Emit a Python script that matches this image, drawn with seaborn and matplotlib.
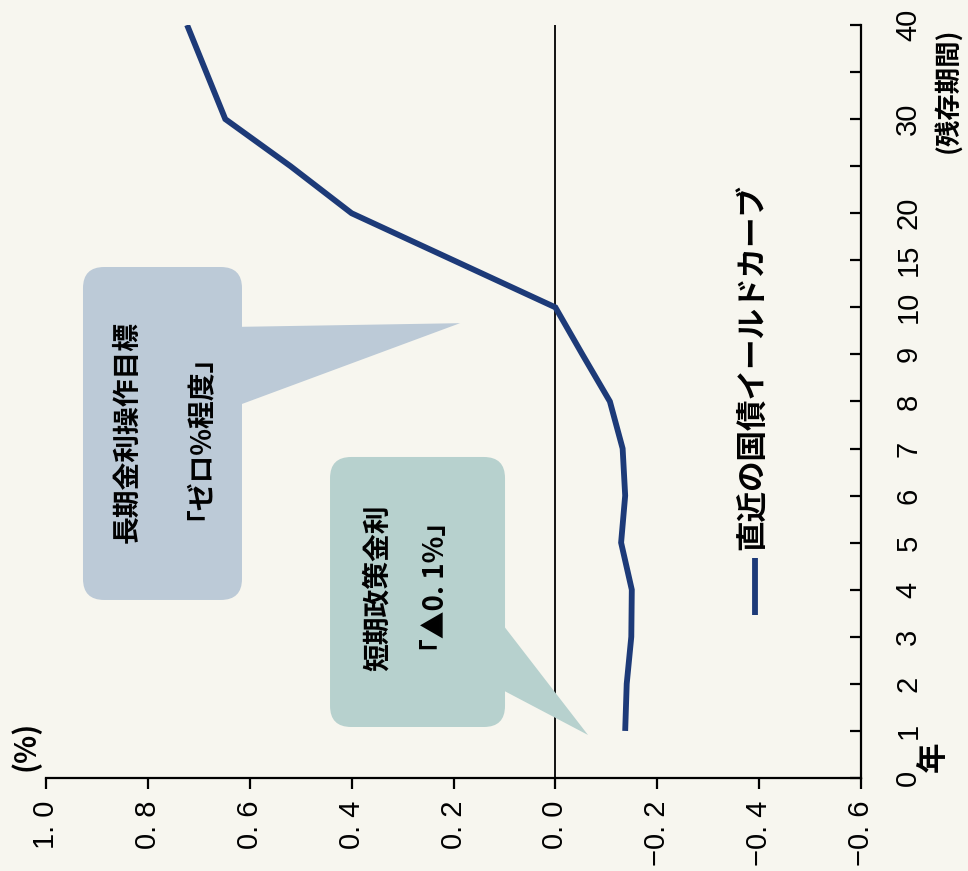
import matplotlib
matplotlib.use("Agg")
import matplotlib.pyplot as plt
import seaborn as sns
import numpy as np
import pandas as pd
from matplotlib.patches import FancyBboxPatch, Polygon
from matplotlib.lines import Line2D

# --- DATA ---
maturities = [1, 2, 3, 4, 5, 6, 7, 8, 9, 10, 15, 20, 25, 30, 40]
yields = [-0.137, -0.140, -0.149, -0.150, -0.129, -0.137, -0.132, -0.107,
          -0.053, 0.000, 0.200, 0.400, 0.520, 0.648, 0.723]
mat_ticks = [0, 1, 2, 3, 4, 5, 6, 7, 8, 9, 10, 15, 20, 25, 30, 35, 40]
mat_labels = ["0", "1", "2", "3", "4", "5", "6", "7", "8", "9", "10",
              "15", "20", "", "30", "", "40"]
yield_ticks = [1.0, 0.8, 0.6, 0.4, 0.2, 0.0, -0.2, -0.4, -0.6]
yield_labels = ["1. 0", "0. 8", "0. 6", "0. 4", "0. 2", "0. 0",
                "\u22120. 2", "\u22120. 4", "\u22120. 6"]
series_name = "直近の国債イールドカーブ"
note_long = ["長期金利操作目標", "「ゼロ%程度」"]
note_short = ["短期政策金利", "「▲0. 1%」"]

# --- STYLE ---
BG = "#f7f6ef"
LINE_C = "#1d3a78"
BOX_LONG = "#bccad7"
BOX_SHORT = "#b7d1ce"
CJK = ["Noto Sans CJK JP", "DejaVu Sans"]
NUM = ["Liberation Sans Narrow", "Liberation Sans", "DejaVu Sans"]

sns.set_theme(style="white")
plt.rcParams["font.family"] = CJK
plt.rcParams["text.color"] = "black"

# maturity axis is not linear: ticks are evenly spaced
pos_of = {m: i for i, m in enumerate(mat_ticks)}
df = pd.DataFrame({"yield": yields, "pos": [pos_of[m] for m in maturities]})

fig = plt.figure(figsize=(9.68, 8.71), dpi=100, facecolor=BG)
ax = fig.add_axes([0.0475, 0.1068, 0.842, 0.8645])
ax.set_facecolor(BG)

# zero line
ax.axvline(0, color="black", lw=1.3, zorder=1)

sns.lineplot(data=df, x="yield", y="pos", orient="y", sort=False,
             color=LINE_C, lw=4.2, ax=ax, zorder=4,
             solid_capstyle="butt", solid_joinstyle="miter")

ax.set_xlim(1.0, -0.6)
ax.set_ylim(0, len(mat_ticks) - 1)

# spines
for s in ["left", "top"]:
    ax.spines[s].set_visible(False)
for s in ["bottom", "right"]:
    ax.spines[s].set_color("black")
    ax.spines[s].set_linewidth(1.6)

# yield axis (bottom)
ax.set_xticks(yield_ticks)
ax.set_xticklabels(yield_labels, rotation=90, fontsize=21, family=NUM)
ax.tick_params(axis="x", direction="out", length=8, width=1.6,
               pad=8, colors="black", bottom=True)

# maturity axis (right)
ax.yaxis.tick_right()
ax.set_yticks(range(len(mat_ticks)))
ax.set_yticklabels(mat_labels, rotation=90, va="center", fontsize=21,
                   family=NUM)
ax.tick_params(axis="y", direction="in", length=8, width=1.6,
               pad=24, colors="black", right=True, left=False)
ax.set_xlabel("")
ax.set_ylabel("")

# unit labels
ax.text(-0.026, 0.043, "(%)", transform=ax.transAxes, rotation=90,
        ha="center", va="center", fontsize=21, fontweight="bold")
ax.text(1.088, 0.028, "年", transform=ax.transAxes, rotation=90,
        ha="center", va="center", fontsize=22, fontweight="bold")
ax.text(1.106, 0.997, "(残存期間)", transform=ax.transAxes, rotation=90,
        ha="center", va="top", fontsize=19, fontweight="bold")

# --- callouts ---
def callout(x0, x1, y0, y1, base, tip, color):
    box = FancyBboxPatch((x0, y0), x1 - x0, y1 - y0,
                         boxstyle="round,pad=0,rounding_size=0.026",
                         mutation_aspect=1.08, transform=ax.transAxes,
                         fc=color, ec="none", zorder=2, clip_on=False)
    ax.add_patch(box)
    tri = Polygon([(x1 - 0.01, base[0]), tip, (x1 - 0.01, base[1])],
                  closed=True, transform=ax.transAxes, fc=color, ec="none",
                  zorder=2)
    ax.add_patch(tri)

callout(0.0454, 0.2405, 0.2364, 0.6786, (0.599, 0.4927), (0.508, 0.604),
        BOX_LONG)
callout(0.3485, 0.5632, 0.0677, 0.4263, (0.2138, 0.1208), (0.665, 0.0571),
        BOX_SHORT)

note_kw = dict(transform=ax.transAxes, rotation=90, ha="center",
               va="center", fontsize=20, fontweight="bold", zorder=3)
ax.text(0.1006, 0.4595, note_long[0], **note_kw)
ax.text(0.171, 0.4714, note_long[1], **note_kw)
ax.text(0.407, 0.2523, note_short[0], **note_kw)
ax.text(0.479, 0.2537, note_short[1], **note_kw)

# --- legend (drawn rotated) ---
ax.add_line(Line2D([0.870, 0.870], [0.2165, 0.292], transform=ax.transAxes,
                   color=LINE_C, lw=4.2, solid_capstyle="butt"))
ax.text(0.8675, 0.303, series_name, transform=ax.transAxes, rotation=90,
        ha="center", va="bottom", fontsize=22, fontweight="bold")

fig.savefig("out.png", dpi=100, facecolor=BG)
